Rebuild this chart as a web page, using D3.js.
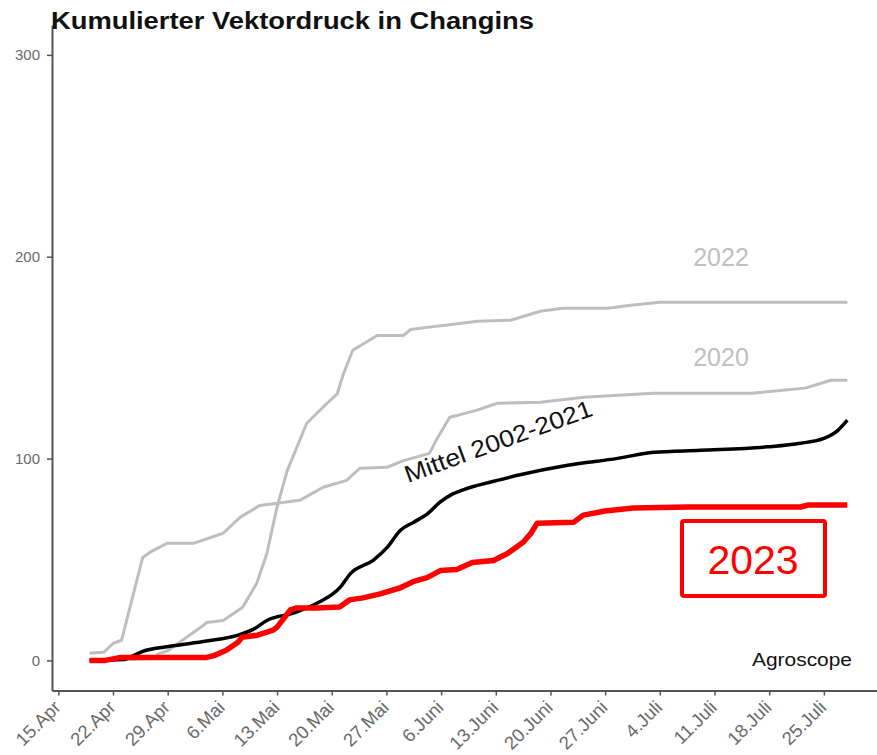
<!DOCTYPE html>
<html>
<head>
<meta charset="utf-8">
<script src="https://cdn.jsdelivr.net/npm/d3@7"></script>
<style>
  html, body { margin: 0; padding: 0; background: #fff; }
  svg { display: block; }
  text { font-family: Arial, "Liberation Sans", Helvetica, sans-serif; }
</style>
</head>
<body>
<svg id="chart" width="877" height="755"></svg>
<script>
// ---- Data (day index = days after 15 April) ----
const tickDays = [0, 7, 14, 21, 28, 35, 42, 49, 56, 63, 70, 77, 84, 91, 98];
const tickLabels = ["15.Apr", "22.Apr", "29.Apr", "6.Mai", "13.Mai", "20.Mai", "27.Mai",
  "6.Juni", "13.Juni", "20.Juni", "27.Juni", "4.Juli", "11.Juli", "18.Juli", "25.Juli"];
const yTicks = [0, 100, 200, 300];

const days2022 = [4, 12, 13, 14.1, 18.4, 19, 21.1, 23.6, 25.4, 26.7, 28, 29.3, 31.8, 34.4, 35.7, 36.5, 37.7, 40.8, 44.2, 45.1, 47.2, 50.6, 53.6, 57.9, 61.7, 64.5, 70.3, 73.3, 77, 101];
const values2022 = [0, 1, 3.5, 5, 16.9, 18.8, 19.8, 26.3, 38.2, 53, 76, 94, 117.5, 127.4, 132, 142, 153.7, 161, 161, 164, 165, 166.5, 168, 168.5, 173, 174.5, 174.5, 176, 177.5, 177.5];

const days2020 = [4, 5.8, 7, 8.1, 10.8, 11.7, 13.9, 17.3, 21.1, 23.3, 25.8, 30.9, 33.9, 36.9, 38.6, 42.1, 44.2, 47.5, 48.5, 50.1, 51.2, 53.6, 56.2, 61.7, 67.3, 76.1, 88.8, 95.6, 98.9, 101];
const values2020 = [3.5, 4, 8.4, 10, 51, 53.5, 58, 58, 63, 71, 76.8, 79.3, 85.8, 89.2, 95.2, 95.7, 99, 102.6, 110, 120.5, 121.5, 124, 127.4, 127.9, 130.4, 132.4, 132.4, 134.9, 138.8, 138.8];

const daysMittel = [4, 8.5, 9.4, 10.8, 14.3, 19, 22.9, 25, 26.7, 30.1, 33.1, 36.1, 37.4, 40.3, 42.1, 43.8, 45.5, 47.2, 48.9, 50.5, 52.4, 56.2, 58.8, 65.2, 71.6, 76.2, 82.2, 90.8, 95, 98, 99.8, 101];
const valuesMittel = [0, 0.5, 2, 4.5, 7, 9.6, 12.4, 15.5, 19.8, 23.5, 28.3, 36.3, 43, 49.6, 56, 64.5, 68.5, 72.5, 78.5, 82.5, 85.3, 89.2, 91.7, 96.7, 100.1, 103.1, 104.1, 105.8, 107.6, 110, 114, 119];

const days2023 = [4, 6, 8, 19, 20, 21.5, 23, 23.5, 25.5, 27.5, 28, 29.7, 30.5, 33, 36, 37.3, 39, 41.2, 43.8, 45.4, 47.2, 48.9, 51, 53, 55.7, 57.5, 59.5, 60.5, 61.3, 66, 67.2, 70, 73.6, 80.6, 95, 96, 101];
const values2023 = [0, 0, 1.5, 1.5, 2.5, 5, 9, 11.5, 12.5, 15, 16.5, 25, 26, 26, 26.5, 30, 31, 33, 36, 39, 41, 44.5, 45, 48.5, 49.5, 53, 58.5, 63, 68, 68.5, 72, 74, 75.5, 76, 76, 77, 77];

// ---- Setup ----
const svg = d3.select("#chart");
const x = d3.scaleLinear().domain([-0.81, 104.8]).range([52, 877]);
const y = d3.scaleLinear().domain([-14.9, 314.8]).range([690.5, 25]);

const zip = (ds, vs) => ds.map((d, i) => ({ d, v: vs[i] }));
const line = d3.line().x(p => x(p.d)).y(p => y(p.v));

const axisColor = "#555555";
const tickTextColor = "#6a6a6a";

// ---- Lines ----
svg.append("path").datum(zip(days2022, values2022))
  .attr("d", line).attr("fill", "none").attr("stroke", "#bebebe")
  .attr("stroke-width", 3).attr("stroke-linejoin", "round");
svg.append("path").datum(zip(days2020, values2020))
  .attr("d", line).attr("fill", "none").attr("stroke", "#bebebe")
  .attr("stroke-width", 3).attr("stroke-linejoin", "round");
svg.append("path").datum(zip(daysMittel, valuesMittel))
  .attr("d", line.curve(d3.curveMonotoneX)).attr("fill", "none").attr("stroke", "#000")
  .attr("stroke-width", 3.5).attr("stroke-linejoin", "round");
line.curve(d3.curveLinear);
svg.append("path").datum(zip(days2023, values2023))
  .attr("d", line).attr("fill", "none").attr("stroke", "#ff0000")
  .attr("stroke-width", 5.5).attr("stroke-linejoin", "round");

// ---- Axes ----
const yAxis = svg.append("g").attr("transform", "translate(52,0)")
  .call(d3.axisLeft(y).tickValues(yTicks).tickSize(5).tickSizeOuter(0).tickPadding(7));
yAxis.select(".domain").attr("stroke", axisColor).attr("stroke-width", 2);
yAxis.selectAll(".tick line").attr("stroke", axisColor).attr("stroke-width", 1.5);
yAxis.selectAll(".tick text").attr("fill", tickTextColor)
  .style("font-size", "15px").style("font-family", "Arial, 'Liberation Sans', sans-serif");

const xAxis = svg.append("g").attr("transform", "translate(0,690.5)")
  .call(d3.axisBottom(x).tickValues(tickDays).tickSize(5).tickSizeOuter(0)
    .tickFormat((d, i) => tickLabels[i]));
xAxis.select(".domain").attr("stroke", axisColor).attr("stroke-width", 2);
xAxis.selectAll(".tick line").attr("stroke", axisColor).attr("stroke-width", 1.5);
xAxis.selectAll(".tick text")
  .attr("fill", tickTextColor)
  .attr("text-anchor", "end")
  .attr("x", 0).attr("y", 0).attr("dy", 0)
  .attr("transform", "translate(3,18) rotate(-45)")
  .style("font-size", "18.5px").style("font-family", "Arial, 'Liberation Sans', sans-serif");

// ---- Title ----
svg.append("text").attr("x", 51).attr("y", 29)
  .attr("font-weight", "bold").attr("font-size", 23).attr("fill", "#111")
  .attr("textLength", 483).attr("lengthAdjust", "spacingAndGlyphs")
  .text("Kumulierter Vektordruck in Changins");

// ---- Annotations ----
svg.append("text").attr("x", 721).attr("y", 266).attr("text-anchor", "middle")
  .attr("font-size", 25).attr("fill", "#c0c0c0").text("2022");
svg.append("text").attr("x", 721).attr("y", 366).attr("text-anchor", "middle")
  .attr("font-size", 25).attr("fill", "#c0c0c0").text("2020");
svg.append("text").attr("transform", "translate(408,483) rotate(-20)")
  .attr("font-size", 24).attr("fill", "#111")
  .attr("textLength", 198).attr("lengthAdjust", "spacingAndGlyphs")
  .text("Mittel 2002-2021");

svg.append("rect").attr("x", 682).attr("y", 521).attr("width", 143).attr("height", 75)
  .attr("rx", 2).attr("fill", "none").attr("stroke", "#ff0000").attr("stroke-width", 4);
svg.append("text").attr("x", 753).attr("y", 574).attr("text-anchor", "middle")
  .attr("font-size", 41).attr("fill", "#ff0000").text("2023");

svg.append("text").attr("x", 752).attr("y", 666)
  .attr("font-size", 18).attr("fill", "#111")
  .attr("textLength", 100).attr("lengthAdjust", "spacingAndGlyphs")
  .text("Agroscope");
</script>
</body>
</html>
